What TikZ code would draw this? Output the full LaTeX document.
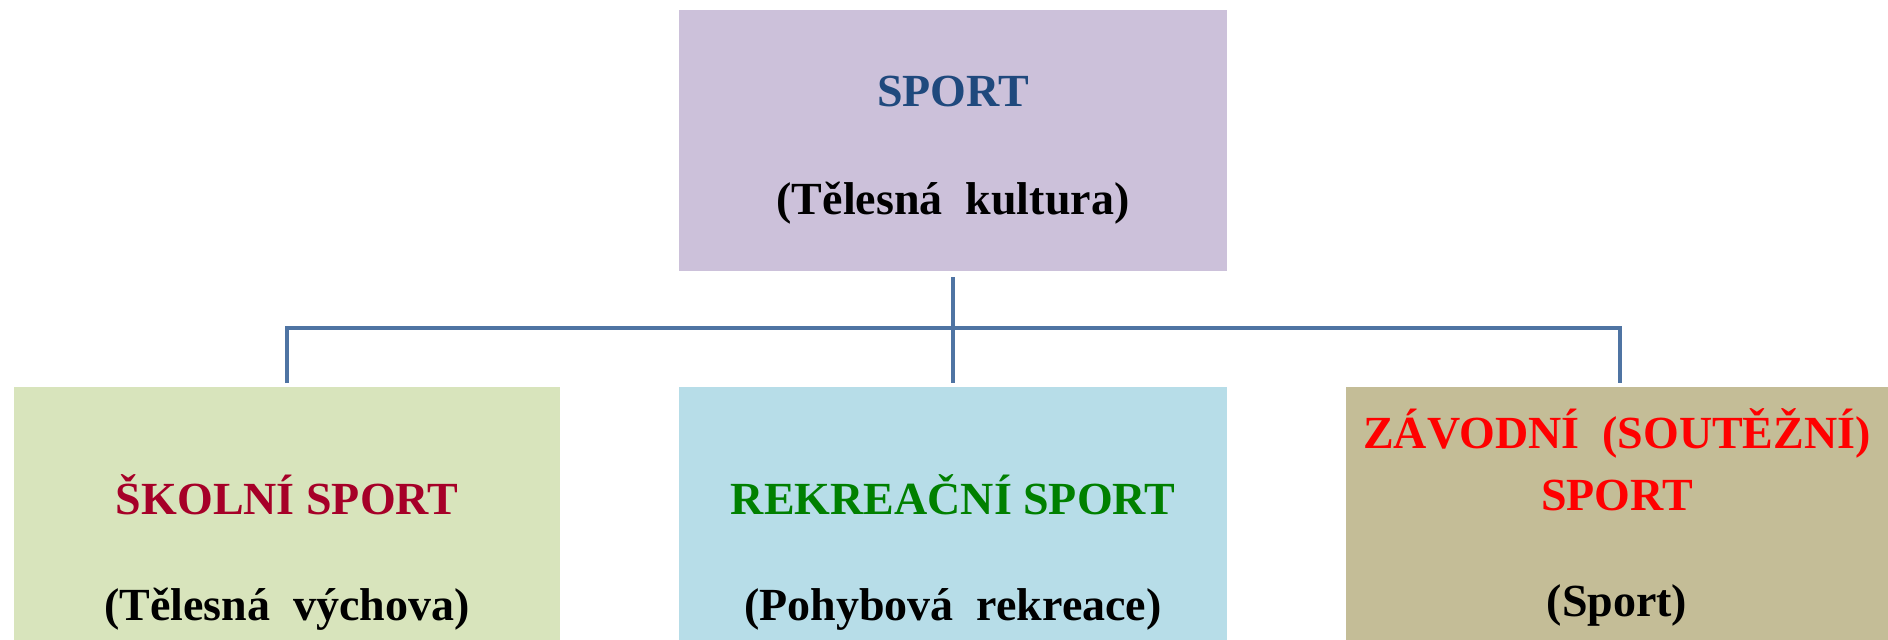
\documentclass[tikz,border=0pt]{standalone}
\usepackage{fontspec}
\setmainfont{Liberation Serif}
\definecolor{topfill}{RGB}{204,193,218}
\definecolor{leftfill}{RGB}{216,228,188}
\definecolor{midfill}{RGB}{183,221,232}
\definecolor{rightfill}{RGB}{196,189,151}
\definecolor{connc}{RGB}{79,116,163}
\definecolor{topc}{RGB}{31,73,125}
\definecolor{leftc}{RGB}{166,0,40}
\definecolor{midc}{RGB}{0,128,0}
\definecolor{rightc}{RGB}{255,0,0}
\begin{document}
\begin{tikzpicture}[x=1pt,y=-1pt,
  boxnode/.style={draw=none, inner sep=0pt, anchor=north west},
  conn/.style={draw=connc, line width=4.5pt},
  txt/.style={inner sep=0pt, anchor=base, font=\fontsize{46}{55}\selectfont\bfseries}]
\useasboundingbox (0,0) rectangle (1888,640);
\clip (0,0) rectangle (1888,640);
\node[boxnode, fill=topfill, minimum width=548pt, minimum height=261pt] (top) at (679,10) {};
\node[boxnode, fill=leftfill, minimum width=546pt, minimum height=330pt] (left) at (14,387) {};
\node[boxnode, fill=midfill, minimum width=548pt, minimum height=330pt] (mid) at (679,387) {};
\node[boxnode, fill=rightfill, minimum width=548pt, minimum height=330pt] (right) at (1346,387) {};
\coordinate (bus) at (953,328);
\draw[conn] ([yshift=-6pt]top.south) -- ([yshift=4pt]mid.north);
\draw[conn] ([yshift=4pt]left.north) -- (left.north |- bus) -- (right.north |- bus) -- ([yshift=4pt]right.north);
\node[txt, text=topc] (t1) at (953,106) {SPORT};
\node[txt] (t2) at (953,214) {(Tělesná\ \ kultura)};
\node[txt, text=leftc] (l1) at (287,514) {ŠKOLNÍ SPORT};
\node[txt] (l2) at (287,620) {(Tělesná\ \ výchova)};
\node[txt, text=midc] (m1) at (953,514) {REKREAČNÍ SPORT};
\node[txt] (m2) at (953,620) {(Pohybová\ \ rekreace)};
\node[txt, text=rightc] (r1) at (1617,448) {ZÁVODNÍ\ \ (SOUTĚŽNÍ)};
\node[txt, text=rightc] (r2) at (1617,510) {SPORT};
\node[txt] (r3) at (1617,616) {(Sport)};
\end{tikzpicture}
\end{document}
